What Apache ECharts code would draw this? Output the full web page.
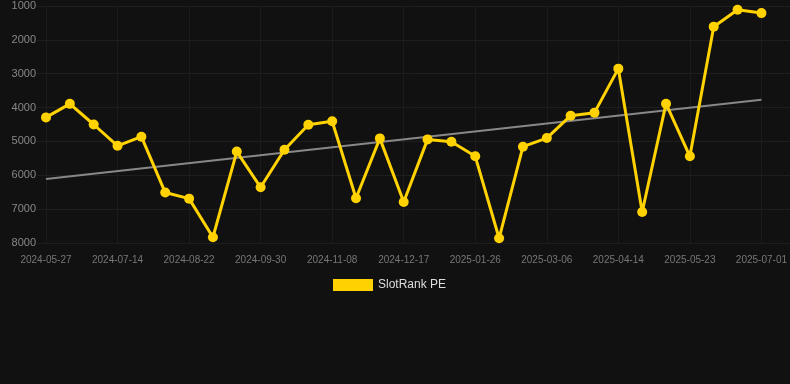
<!DOCTYPE html>
<html>
<head>
<meta charset="utf-8">
<script src="https://cdn.jsdelivr.net/npm/echarts@6/dist/echarts.min.js"></script>
<style>
  html, body { margin: 0; padding: 0; background: #111111; }
  #main { width: 790px; height: 384px; }
</style>
</head>
<body>
<div id="main"></div>
<script>
// dates of each rank reading
const dates = [
  '2024-05-27', '2024-06-12', '2024-06-28', '2024-07-14', '2024-07-27', '2024-08-09',
  '2024-08-22', '2024-09-04', '2024-09-17', '2024-09-30', '2024-10-13', '2024-10-26',
  '2024-11-08', '2024-11-21', '2024-12-04', '2024-12-17', '2024-12-30', '2025-01-12',
  '2025-01-26', '2025-02-08', '2025-02-21', '2025-03-06', '2025-03-19', '2025-04-01',
  '2025-04-14', '2025-04-27', '2025-05-10', '2025-05-23', '2025-06-05', '2025-06-18',
  '2025-07-01'
];
// rank values (lower is better, axis is inverted)
const ranks = [
  4290, 3890, 4500, 5130, 4860, 6510, 6690, 7830, 5300, 6355, 5245,
  4505, 4405, 6680, 4910, 6790, 4940, 5010, 5440, 7860, 5155,
  4900, 4240, 4150, 2850, 7085, 3885, 5440, 1610, 1110, 1210
];
// trend line end points
const trendEnds = [6110, 3770];

const yMin = 1000;
const yMax = 8000;
const yStep = 1000;

const dom = document.getElementById('main');
const myChart = echarts.init(dom, null, { renderer: 'canvas' });

const option = {
  backgroundColor: '#111111',
  animation: false,
  grid: [
    { left: 46, right: 28, top: 6, bottom: 141 },
    { left: 37, right: 0, top: 6, bottom: 141 }
  ],
  legend: {
    bottom: 88,
    left: 328,
    itemWidth: 40,
    itemHeight: 12,
    itemGap: 10,
    textStyle: { color: '#dddddd', fontSize: 12, fontFamily: 'Liberation Sans, Arial, sans-serif' },
    data: [{ name: 'SlotRank PE', icon: 'rect' }]
  },
  xAxis: [
    {
      type: 'category',
      gridIndex: 0,
      data: dates,
      boundaryGap: false,
      axisLine: { show: false },
      axisTick: { show: false },
      axisLabel: {
        color: '#777777',
        fontSize: 10,
        fontFamily: 'Liberation Sans, Arial, sans-serif',
        interval: 2,
        margin: 12
      },
      splitLine: {
        show: true,
        interval: 2,
        lineStyle: { color: '#1c1c1c', width: 1 }
      }
    },
    {
      type: 'category',
      gridIndex: 1,
      data: dates,
      show: false
    }
  ],
  yAxis: [
    {
      type: 'value',
      gridIndex: 0,
      inverse: true,
      min: yMin,
      max: yMax,
      interval: yStep,
      axisLine: { show: false },
      axisTick: { show: false },
      axisLabel: {
        color: '#888888',
        fontSize: 11,
        fontFamily: 'Liberation Sans, Arial, sans-serif',
        margin: 10,
        formatter: function (v) { return String(v); }
      },
      splitLine: { show: false }
    },
    {
      type: 'value',
      gridIndex: 1,
      inverse: true,
      min: yMin,
      max: yMax,
      interval: yStep,
      axisLine: { show: false },
      axisTick: { show: false },
      axisLabel: { show: false },
      splitLine: { show: true, lineStyle: { color: '#1e1e1e', width: 1 } }
    }
  ],
  series: [
    {
      name: 'Trend',
      type: 'line',
      xAxisIndex: 0,
      yAxisIndex: 0,
      data: [[dates[0], trendEnds[0]], [dates[dates.length - 1], trendEnds[1]]],
      showSymbol: false,
      symbol: 'none',
      lineStyle: { color: '#888888', width: 2 },
      silent: true,
      z: 1
    },
    {
      name: 'SlotRank PE',
      type: 'line',
      xAxisIndex: 0,
      yAxisIndex: 0,
      data: ranks,
      symbol: 'circle',
      symbolSize: 10,
      showAllSymbol: true,
      color: '#FFD200',
      itemStyle: { color: '#FFD200' },
      lineStyle: { color: '#FFD200', width: 3 },
      z: 3
    }
  ]
};

myChart.setOption(option, true);
</script>
</body>
</html>
